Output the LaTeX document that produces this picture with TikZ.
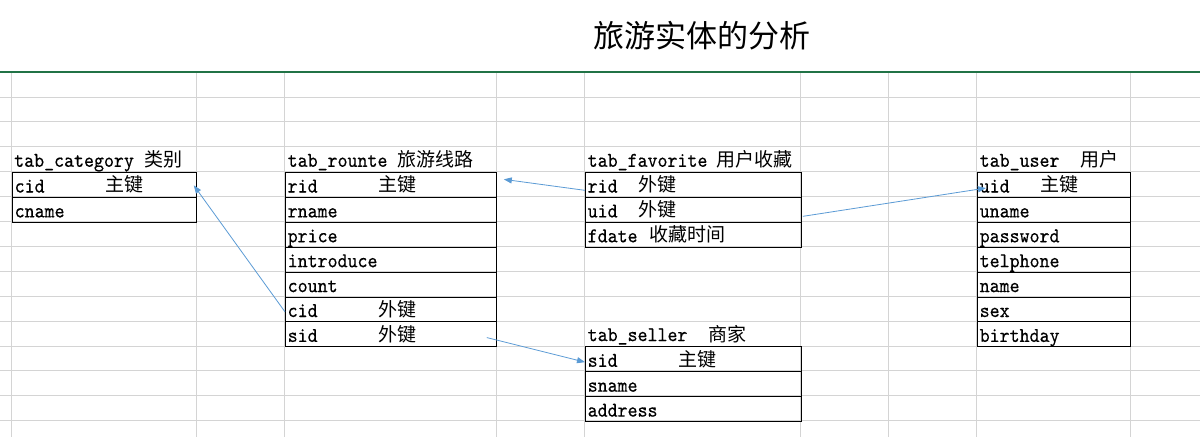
\documentclass[tikz,border=0pt]{standalone}
\usepackage{fontspec}
\newfontfamily\cjk{Noto Sans CJK SC}
\newfontfamily\monof{lmmono10-regular.otf}[FakeBold=0.4,FakeStretch=0.905]
\usetikzlibrary{arrows.meta}
\definecolor{gridgray}{HTML}{D4D4D4}
\definecolor{xlgreen}{HTML}{217346}
\definecolor{arrowblue}{HTML}{5B9BD5}
\newcommand\erTable[5]{%
  \foreach \f [count=\i] in {#5} {%
    \node[rowbox, minimum width=#4] (#1\i) at (#2,{#3+(\i-1)*24.9}) {};
    \node[lat] at ([xshift=2.5pt,yshift=5.2pt]#1\i.south west) {\f};
  }}
\begin{document}
\begin{tikzpicture}[x=1pt,y=-1pt,
  gridline/.style={draw=gridgray, line width=0.8pt},
  rowbox/.style={draw=black, line width=0.8pt, minimum height=24.9pt, inner sep=0pt, anchor=north west},
  lat/.style={font=\monof\fontsize{21}{21}\selectfont, inner sep=0pt, anchor=base west},
  han/.style={font=\cjk\fontsize{19}{19}\selectfont, inner sep=0pt, anchor=base west},
  link/.style={draw=arrowblue, line width=0.8pt, -{Triangle[length=8pt,width=6pt]}}]
\useasboundingbox (0,0) rectangle (1200,437);
\fill[white] (0,0) rectangle (1200,437);
% spreadsheet grid
\foreach \k in {1,...,14} \draw[gridline] (0,{72+\k*24.9}) -- (1200,{72+\k*24.9});
\foreach \x in {11,196,284,496,584,800,888,976,1130} \draw[gridline] (\x,72) -- (\x,437);
\draw[xlgreen, line width=1.6pt] (0,72) -- (1200,72);
% title
\node[font=\cjk\fontsize{31}{31}\selectfont, inner sep=0pt] (title) at (702,36) {旅游实体的分析};
% tables
\erTable{c}{12}{172}{184pt}{cid,cname}
\erTable{r}{285}{172}{211pt}{rid,rname,price,introduce,count,cid,sid}
\erTable{f}{585}{172}{216pt}{rid,uid,fdate}
\erTable{u}{977}{172}{153pt}{uid,uname,password,telphone,name,sex,birthday}
\erTable{s}{585}{346.3}{216pt}{sid,sname,address}
% table titles
\node[lat] (ct) at (14,166.8) {tab\_category};
\node[han] (ctc) at (144.7,166.8) {类别};
\node[lat] (rt) at (287.5,166.8) {tab\_rounte};
\node[han] (rtc) at (397.3,166.8) {旅游线路};
\node[lat] (ft) at (587.5,166.8) {tab\_favorite};
\node[han] (ftc) at (716.7,166.8) {用户收藏};
\node[lat] (ut) at (979.5,166.8) {tab\_user};
\node[han] (utc) at (1080,166.8) {用户};
\node[lat] (st) at (587.5,341.1) {tab\_seller};
\node[han] (stc) at (708.3,341.1) {商家};
% annotations
\node[han] (ca1) at (105,191.7) {主键};
\node[han] (ra1) at (378,191.7) {主键};
\node[han] (ra6) at (378,316.2) {外键};
\node[han] (ra7) at (378,341.1) {外键};
\node[han] (fa1) at (638.5,191.7) {外键};
\node[han] (fa2) at (638.5,216.6) {外键};
\node[han] (fa3) at (649,241.5) {收藏时间};
\node[han] (ua1) at (1040,191.7) {主键};
\node[han] (sa1) at (678,366.0) {主键};
% connectors
\draw[link] ([yshift=-2.5pt]r6.west) -- ([xshift=-3pt,yshift=-0.5pt]c1.east);
\draw[link] ([yshift=-5.5pt]f1.west) -- ([xshift=7pt,yshift=5.5pt]r1.east);
\draw[link] ([xshift=1pt,yshift=-6.6pt]f2.east) -- ([xshift=9pt,yshift=-3.2pt]u1.west);
\draw[link] ([xshift=-10pt,yshift=-3.3pt]r7.east) -- ([yshift=-3pt]s1.west);
\end{tikzpicture}
\end{document}
